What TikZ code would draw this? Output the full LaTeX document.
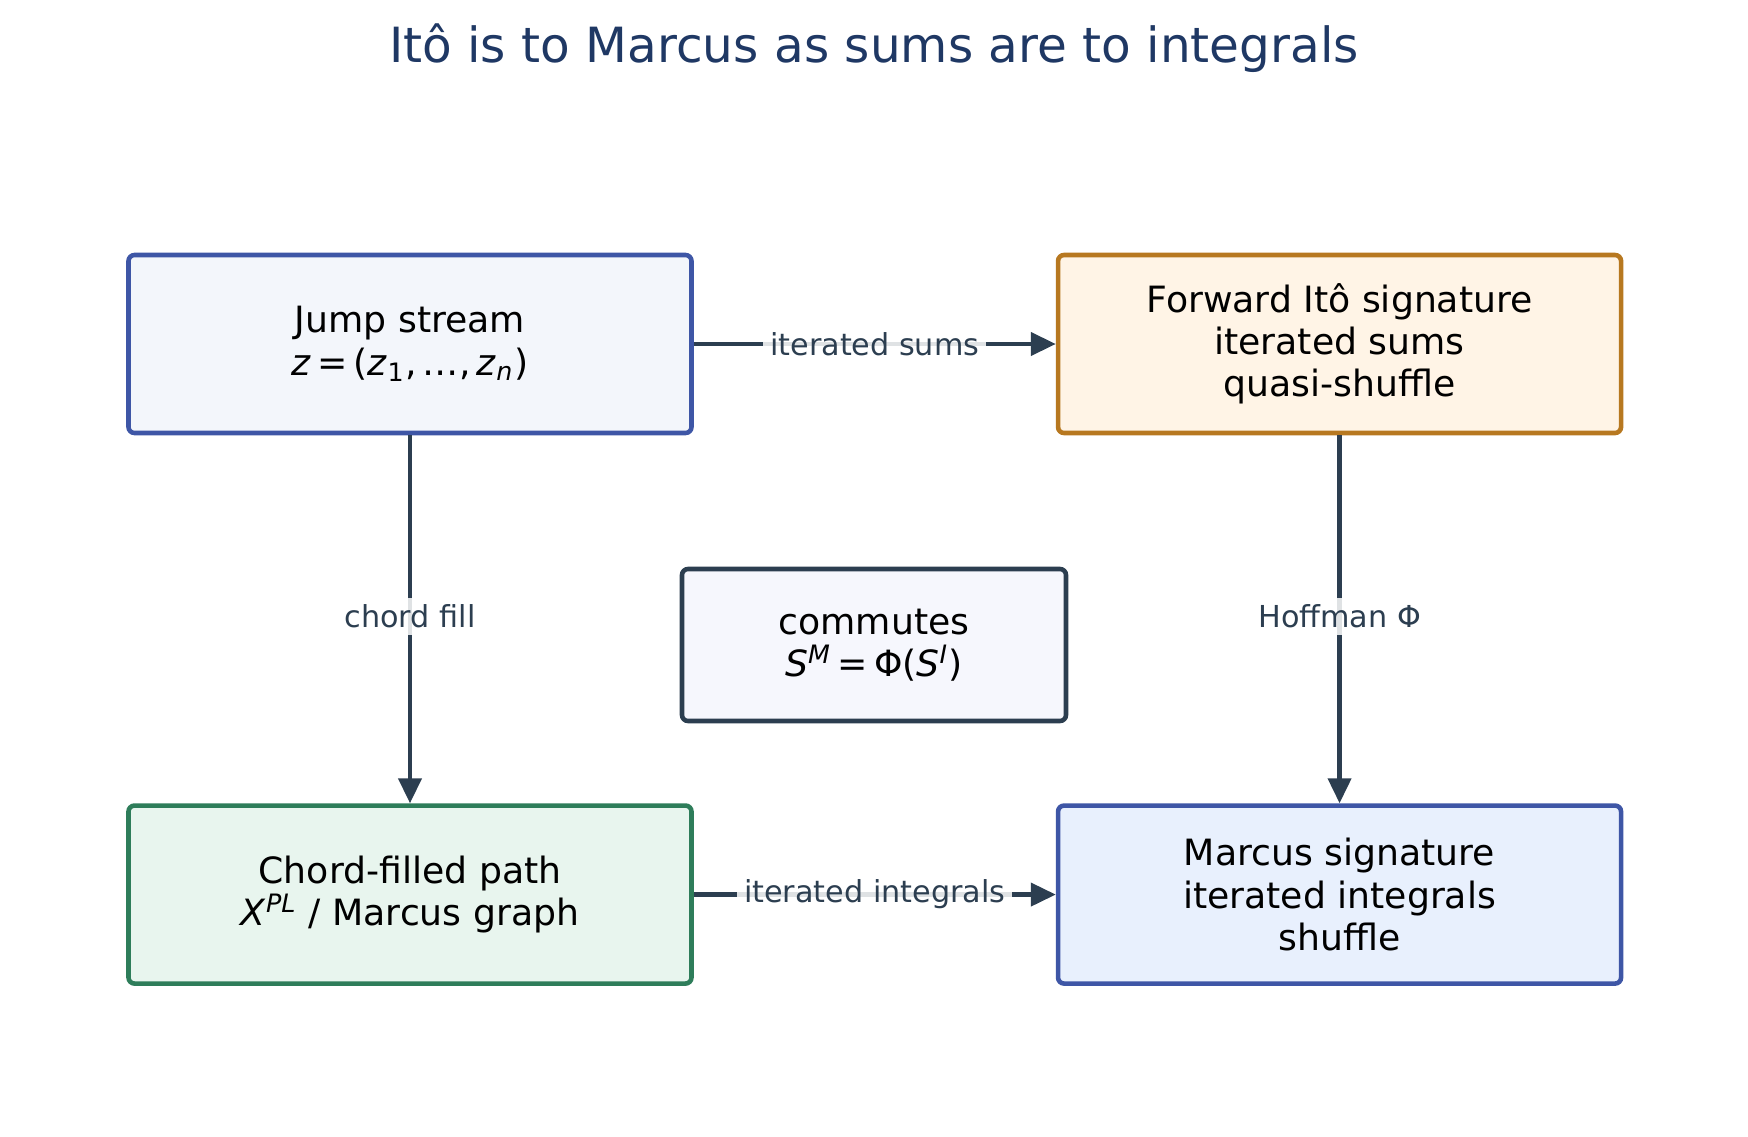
\documentclass[tikz,border=0pt]{standalone}
\usepackage{fontspec}
\setmainfont{DejaVu Sans}
\usetikzlibrary{arrows.meta,positioning}
\definecolor{inkslate}{RGB}{44,62,80}
\definecolor{titlenavy}{RGB}{31,56,100}
\definecolor{jumpblue}{RGB}{62,86,166}
\definecolor{jumpfill}{RGB}{243,246,251}
\definecolor{itoamber}{RGB}{183,120,32}
\definecolor{itofill}{RGB}{255,244,230}
\definecolor{chordgreen}{RGB}{46,125,90}
\definecolor{chordfill}{RGB}{232,245,238}
\definecolor{marcusfill}{RGB}{232,240,253}
\definecolor{commfill}{RGB}{246,247,253}
\newcommand{\mi}[1]{\textit{#1}}
\tikzset{
  bx/.style={rectangle,rounded corners=0.6mm,draw=jumpblue,fill=jumpfill,
             line width=1.3pt,minimum width=5.63cm,minimum height=1.78cm,
             align=center,font=\fontsize{10.3}{12}\selectfont},
  bxI/.style={bx,draw=itoamber,fill=itofill},
  bxC/.style={bx,draw=chordgreen,fill=chordfill},
  bxM/.style={bx,fill=marcusfill},
  bxE/.style={bx,draw=inkslate,fill=commfill,
              minimum width=3.84cm,minimum height=1.52cm},
  ge/.style={-{Triangle[length=2.5mm,width=2.3mm]},line width=1.2pt,inkslate},
  lbl/.style={font=\fontsize{8.6}{10}\selectfont,text=inkslate,fill=white,
              fill opacity=0.85,text opacity=1,inner sep=2pt},
}

\begin{document}
\begin{tikzpicture}
    \useasboundingbox (0,0) rectangle (17.48,-11.37);
    \node[font=\fontsize{13.8}{16}\selectfont,text=titlenavy] (title) at (8.74,-0.48)
      {Itô is to Marcus as sums are to integrals};
    \node[bx] (jump) at (4.10,-3.44)
      {Jump stream\\\mi{z}\,=\,(\mi{z}\textsubscript{1},\,…,\,\mi{z}\textsubscript{\mi{n}})};
    \node[bxI,right=3.62cm of jump] (ito)
      {Forward Itô signature\\iterated sums\\quasi-shuffle};
    \node[bxC,below=3.68cm of jump] (chord)
      {Chord-filled path\\\mi{X}\textsuperscript{\mi{PL}} / Marcus graph};
    \node[bxM,below=3.68cm of ito] (marcus)
      {Marcus signature\\iterated integrals\\shuffle};
    \node[bxE] (comm) at (8.74,-6.45)
      {commutes\\\mi{S}\textsuperscript{\mi{M}}\,=\,Φ(\mi{S}\textsuperscript{\mi{I}})};
    \draw[ge] (jump) -- node[lbl]{iterated sums} (ito);
    \draw[ge] (chord) -- node[lbl]{iterated integrals} (marcus);
    \draw[ge] (jump) -- node[lbl,yshift=0.3mm]{chord fill} (chord);
    \draw[ge] (ito) -- node[lbl,yshift=0.3mm]{Hoffman Φ} (marcus);
  \end{tikzpicture}
\end{document}
